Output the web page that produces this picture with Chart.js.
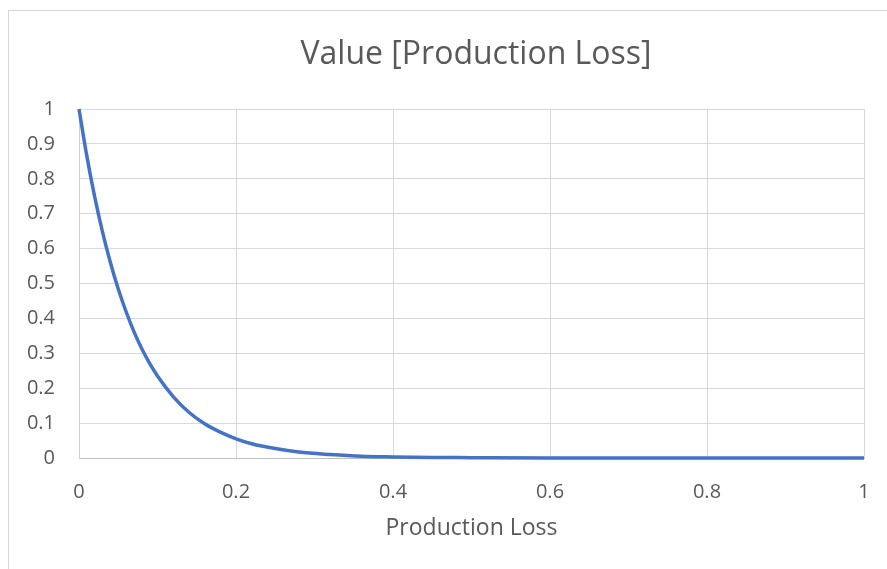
<!DOCTYPE html>
<html>
<head>
<meta charset="utf-8">
<script src="https://cdn.jsdelivr.net/npm/chart.js@4/dist/chart.umd.min.js"></script>
<style>
  html, body { margin: 0; padding: 0; background: #ffffff; overflow: hidden; }
  #frame { position: absolute; left: 8px; top: 10px; width: 1000px; height: 1000px; border: 1px solid #d9d9d9; box-sizing: border-box; }
  #wrap { position: absolute; left: 0; top: 0; width: 887px; height: 569px; }
</style>
</head>
<body>
<div id="frame"></div>
<div id="wrap"><canvas id="chart" width="887" height="569"></canvas></div>
<script>
// Production loss (x) and its value (y)
const productionLoss = [0, 0.01, 0.02, 0.03, 0.04, 0.05, 0.06, 0.07, 0.08, 0.09, 0.10,
  0.12, 0.14, 0.16, 0.18, 0.20, 0.22, 0.25, 0.28, 0.32, 0.36, 0.40, 0.45, 0.50,
  0.60, 0.70, 0.80, 0.90, 1.00];
const lossValue = [1, 0.865, 0.748, 0.647, 0.56, 0.484, 0.419, 0.362, 0.313, 0.271, 0.235,
  0.176, 0.131, 0.098, 0.074, 0.055, 0.041, 0.027, 0.017, 0.010, 0.005, 0.003, 0.0015, 0.001,
  0.0002, 0, 0, 0, 0];

const xTickValues = [0, 0.2, 0.4, 0.6, 0.8, 1];
const xTickLabels = ['0', '0.2', '0.4', '0.6', '0.8', '1'];
const yTickValues = [0, 0.1, 0.2, 0.3, 0.4, 0.5, 0.6, 0.7, 0.8, 0.9, 1];
const yTickLabels = ['0', '0.1', '0.2', '0.3', '0.4', '0.5', '0.6', '0.7', '0.8', '0.9', '1'];

const chartTitle = 'Value [Production Loss]';
const xAxisTitle = 'Production Loss';

const FONT = "'Open Sans', sans-serif";
const TEXT = '#595959';

const points = productionLoss.map((x, i) => ({ x: x, y: lossValue[i] }));

// Title drawn centred over the whole chart frame
const titlePlugin = {
  id: 'frameTitle',
  afterDraw(chart) {
    const ctx = chart.ctx;
    ctx.save();
    ctx.font = '32px ' + FONT;
    ctx.fillStyle = TEXT;
    ctx.textAlign = 'center';
    ctx.textBaseline = 'alphabetic';
    ctx.fillText(chartTitle, 476, 64);
    ctx.restore();
  }
};

new Chart(document.getElementById('chart'), {
  type: 'line',
  data: {
    datasets: [{
      data: points,
      borderColor: '#4472C4',
      borderWidth: 3.5,
      pointRadius: 0,
      fill: false,
      cubicInterpolationMode: 'monotone',
      clip: 4
    }]
  },
  options: {
    responsive: false,
    animation: false,
    layout: { padding: { left: 0, right: 23, top: 109, bottom: 0 } },
    plugins: { legend: { display: false }, tooltip: { enabled: false }, title: { display: false } },
    scales: {
      x: {
        type: 'linear',
        min: 0,
        max: 1,
        afterFit(scale) {
          scale.height = 111;
          scale.paddingLeft = 0;
          scale.paddingRight = 0;
        },
        afterBuildTicks(scale) { scale.ticks = xTickValues.map(v => ({ value: v })); },
        grid: { color: '#d9d9d9', lineWidth: 1, drawTicks: false },
        border: { color: '#bfbfbf', width: 1 },
        ticks: {
          padding: 22,
          color: TEXT,
          font: { family: FONT, size: 20 },
          maxRotation: 0,
          callback: (v) => xTickLabels[xTickValues.indexOf(v)]
        },
        title: {
          display: true,
          text: xAxisTitle,
          color: TEXT,
          font: { family: FONT, size: 23 },
          padding: { top: 0, bottom: 27 }
        }
      },
      y: {
        type: 'linear',
        min: 0,
        max: 1,
        afterFit(scale) { scale.width = 79; },
        afterBuildTicks(scale) { scale.ticks = yTickValues.map(v => ({ value: v })); },
        grid: { color: '#d9d9d9', lineWidth: 1, drawTicks: false },
        border: { color: '#d0d0d0', width: 1 },
        ticks: {
          padding: 24,
          color: TEXT,
          font: { family: FONT, size: 20 },
          callback: (v) => yTickLabels[yTickValues.indexOf(v)]
        }
      }
    }
  },
  plugins: [titlePlugin]
});
</script>
</body>
</html>
